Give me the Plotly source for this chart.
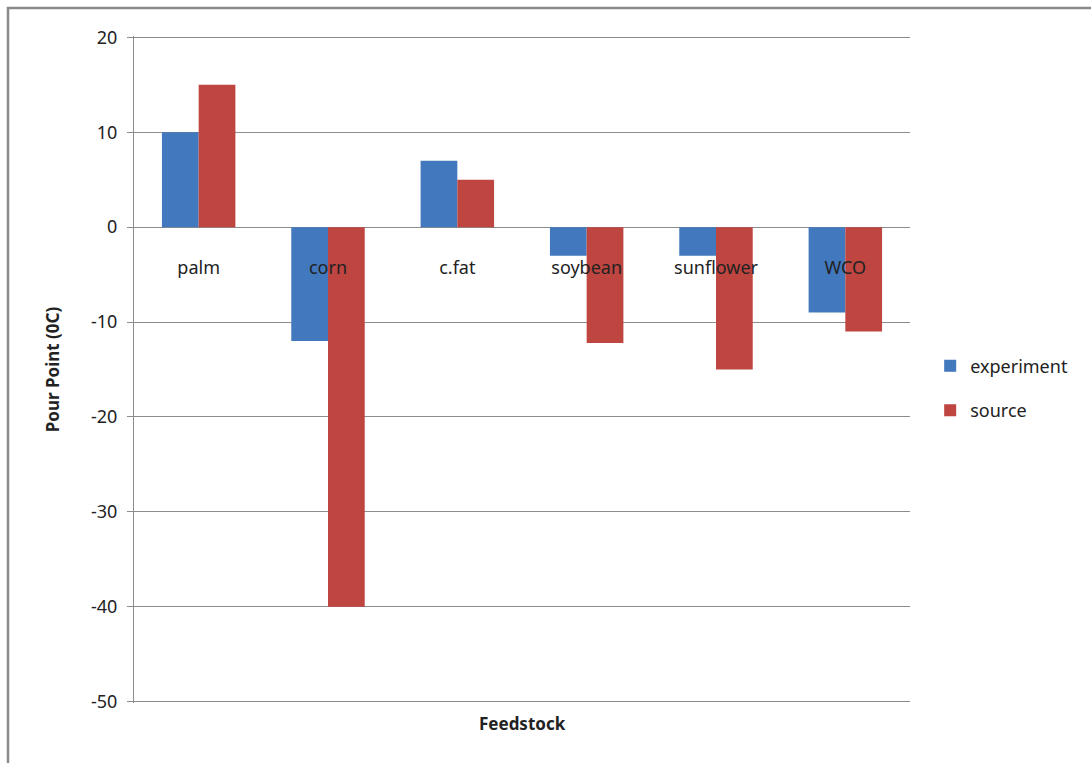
import plotly.graph_objects as go

# Pour point by feedstock (°C)
feedstocks = ["palm", "corn", "c.fat", "soybean", "sunflower", "WCO"]
experiment = [10, -12, 7, -3, -3, -9]
source = [15, -40, 5, -12.2, -15, -11]

y_ticks = [20, 10, 0, -10, -20, -30, -40, -50]
y_tick_text = [str(v) for v in y_ticks]

BLUE = "#4178be"
RED = "#bf4541"
GRID = "#8c8c8c"
FONT = "Noto Sans, Open Sans, sans-serif"

W, H = 1091, 763
L, R, T, B = 134, 181, 37, 61
plot_w = W - L - R
plot_h = H - T - B

# a little padding so the gridlines at both ends are drawn
y_min, y_max = -50.15, 20.15
zero_pos = (0 - y_min) / (y_max - y_min)

fig = go.Figure()
fig.add_trace(go.Bar(name="experiment", x=feedstocks, y=experiment,
                     marker=dict(color=BLUE, line=dict(width=0)),
                     legendgroup="a"))
fig.add_trace(go.Bar(name="source", x=feedstocks, y=source,
                     marker=dict(color=RED, line=dict(width=0)),
                     legendgroup="b"))

fig.update_layout(
    width=W, height=H,
    margin=dict(l=L, r=R, t=T - 1, b=B - 1),
    paper_bgcolor="white",
    plot_bgcolor="white",
    barmode="group",
    bargap=0.432,
    bargroupgap=0,
    font=dict(family=FONT, size=18, color="#222222"),
    showlegend=True,
    legend=dict(
        x=1.026, y=(H - B - 388) / plot_h, xanchor="left", yanchor="middle",
        font=dict(size=18, color="#222222"),
        tracegroupgap=18,
        traceorder="grouped",
        bgcolor="rgba(0,0,0,0)",
    ),
    xaxis=dict(
        type="category",
        anchor="free",
        position=zero_pos,
        showline=False,
        showgrid=False,
        zeroline=False,
        ticks="",
        ticklabelstandoff=28,
        tickfont=dict(size=18, color="#222222"),
    ),
    yaxis=dict(
        range=[y_min, y_max],
        domain=[0, 1],
        tickvals=y_ticks,
        ticktext=y_tick_text,
        showgrid=True,
        gridcolor=GRID,
        gridwidth=1,
        zeroline=True,
        zerolinecolor=GRID,
        zerolinewidth=1,
        showline=True,
        linecolor=GRID,
        linewidth=1,
        ticks="outside",
        ticklen=6,
        tickcolor=GRID,
        ticklabelstandoff=6,
        tickfont=dict(size=18, color="#222222"),
        title=dict(text="<b>Pour Point (0C)</b>", font=dict(size=17, color="#222222"),
                   standoff=27),
    ),
)

fig.add_annotation(
    text="<b>Feedstock</b>", xref="paper", yref="paper",
    x=0.5, y=(H - 722 - B) / plot_h, xanchor="center", yanchor="middle",
    showarrow=False,
    font=dict(size=17, color="#222222"),
)

# Chart border
fig.add_shape(
    type="rect", xref="paper", yref="paper",
    x0=(8 - L) / plot_w, x1=(W + 20 - L) / plot_w,
    y0=(H - (H + 20) - B) / plot_h, y1=(H - 9 - B) / plot_h,
    line=dict(color="#8a8a8a", width=2.5),
    fillcolor="rgba(0,0,0,0)",
    layer="below",
)

fig.write_html("out.html")
